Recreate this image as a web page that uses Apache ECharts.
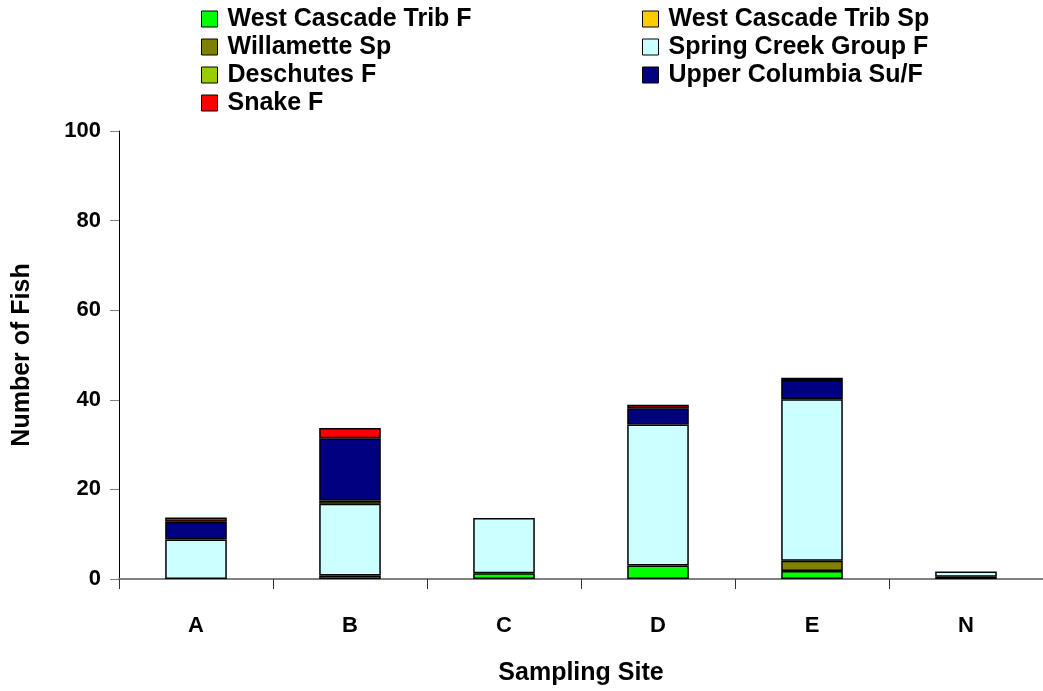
<!DOCTYPE html>
<html>
<head>
<meta charset="utf-8">
<script src="https://cdn.jsdelivr.net/npm/echarts@6/dist/echarts.min.js"></script>
<style>
html,body{margin:0;padding:0;background:#fff;}
#chart{width:1043px;height:691px;}
</style>
</head>
<body>
<div id="chart"></div>
<script>
const categories = ['A', 'B', 'C', 'D', 'E', 'N'];
const westCascadeTribF  = [0,   0.8, 1.3, 3.0, 1.8, 0.5];
const westCascadeTribSp = [0,   0,   0,   0,   0,   0];
const willametteSp      = [0,   0,   0,   0,   2.3, 0];
const springCreekGroupF = [8.8, 16.0, 12.3, 31.5, 36.0, 1.2];
const deschutesF        = [0,   0.7, 0,   0,   0,   0];
const upperColumbiaSuF  = [4.0, 13.9, 0,   3.6, 4.3, 0];
const snakeF            = [0.9, 2.3, 0,   0.8, 0.5, 0];
const yTicks = [0, 20, 40, 60, 80, 100];

const seriesDefs = [
  ['West Cascade Trib F', westCascadeTribF, '#00FF00'],
  ['West Cascade Trib Sp', westCascadeTribSp, '#FFCC00'],
  ['Willamette Sp', willametteSp, '#808000'],
  ['Spring Creek Group F', springCreekGroupF, '#CCFFFF'],
  ['Deschutes F', deschutesF, '#99CC00'],
  ['Upper Columbia Su/F', upperColumbiaSuF, '#000080'],
  ['Snake F', snakeF, '#FF0000']
];

const font = 'Liberation Sans, Arial, sans-serif';
const legendText = {fontFamily: font, fontWeight: 'bold', fontSize: 25, color: '#000', lineHeight: 26, padding: [0, 0, 0, 5]};
const legendCommon = {
  orient: 'vertical', icon: 'rect', itemWidth: 16, itemHeight: 16, itemGap: 2,
  textStyle: legendText, selectedMode: false, padding: 0,
  itemStyle: {borderColor: '#000', borderWidth: 1}
};

const chart = echarts.init(document.getElementById('chart'), null, {renderer: 'canvas'});
chart.setOption({
  animation: false,
  backgroundColor: '#fff',
  legend: [
    Object.assign({left: 201, top: 6, data: ['West Cascade Trib F', 'Willamette Sp', 'Deschutes F', 'Snake F']}, legendCommon),
    Object.assign({left: 642, top: 6, data: ['West Cascade Trib Sp', 'Spring Creek Group F', 'Upper Columbia Su/F']}, legendCommon)
  ],
  grid: {left: 119, top: 131, right: -7, bottom: 108, containLabel: false},
  xAxis: {
    type: 'category',
    data: categories,
    name: 'Sampling Site',
    nameLocation: 'middle',
    nameGap: 82,
    nameTextStyle: {fontFamily: font, fontWeight: 'bold', fontSize: 25, color: '#000'},
    axisLine: {lineStyle: {color: '#808080', width: 2}},
    axisTick: {show: true, interval: 0, alignWithLabel: false, length: 10, lineStyle: {color: '#333'}},
    axisLabel: {margin: 36, fontFamily: font, fontWeight: 'bold', fontSize: 22, color: '#000'}
  },
  yAxis: {
    type: 'value',
    min: yTicks[0], max: yTicks[yTicks.length - 1], interval: 20,
    name: 'Number of Fish',
    nameLocation: 'middle',
    nameGap: 84,
    nameTextStyle: {fontFamily: font, fontWeight: 'bold', fontSize: 25, color: '#000'},
    axisLine: {show: true, lineStyle: {color: '#000', width: 1}},
    axisTick: {show: true, length: 9, lineStyle: {color: '#808080'}},
    splitLine: {show: false},
    axisLabel: {margin: 18, fontFamily: font, fontWeight: 'bold', fontSize: 22, color: '#000'}
  },
  series: seriesDefs.map(([name, vals, color]) => ({
    name: name,
    type: 'bar',
    stack: 'total',
    barWidth: '40%',
    data: vals.map(v => v === 0 ? null : v),
    itemStyle: {color: color, borderColor: '#000', borderWidth: 1.5}
  }))
});
</script>
</body>
</html>
